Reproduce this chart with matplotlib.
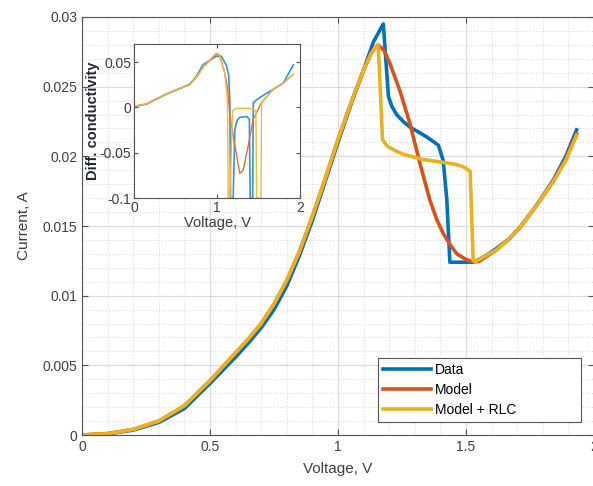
import numpy as np
import matplotlib.pyplot as plt
from matplotlib.ticker import MultipleLocator

plt.rcParams['font.family'] = ['Liberation Sans', 'DejaVu Sans']

# Main I-V curves (V, A)
v_data = [0, 0.1, 0.2, 0.3, 0.4, 0.5, 0.6, 0.65, 0.7, 0.75, 0.8, 0.85, 0.9,
          0.95, 1.0, 1.05, 1.1, 1.138, 1.177, 1.197, 1.21, 1.229, 1.255,
          1.281, 1.346, 1.392, 1.411, 1.425, 1.437, 1.53, 1.58, 1.62, 1.67,
          1.711, 1.776, 1.841, 1.89, 1.932]
i_data = [0, 0.00008, 0.00035, 0.0009, 0.0019, 0.0037, 0.0056, 0.0066,
          0.0077, 0.0090, 0.0107, 0.0129, 0.0154, 0.0182, 0.0210, 0.0237,
          0.0262, 0.0282, 0.0295, 0.0243, 0.0236, 0.0230, 0.0225, 0.0221,
          0.0214, 0.0208, 0.0197, 0.0169, 0.0124, 0.0124, 0.0129, 0.0134,
          0.0141, 0.0149, 0.0165, 0.0183, 0.0200, 0.0219]

v_model = [0, 0.1, 0.2, 0.3, 0.4, 0.5, 0.6, 0.65, 0.7, 0.75, 0.8, 0.85, 0.9,
           0.95, 1.0, 1.05, 1.1, 1.13, 1.145, 1.157, 1.18, 1.203, 1.242,
           1.281, 1.32, 1.359, 1.385, 1.411, 1.44, 1.464, 1.50, 1.528, 1.55,
           1.62, 1.67, 1.711, 1.776, 1.841, 1.89, 1.932]
i_model = [0, 0.0001, 0.0004, 0.001, 0.0021, 0.0039, 0.0059, 0.0069,
           0.0080, 0.0094, 0.0111, 0.0132, 0.0157, 0.0184, 0.0212, 0.0238,
           0.0262, 0.0274, 0.0278, 0.0280, 0.0276, 0.02665, 0.0247, 0.02235,
           0.0195, 0.01685, 0.0155, 0.01446, 0.0136, 0.0130, 0.0126,
           0.01243, 0.01245, 0.0133, 0.0141, 0.0149, 0.0165, 0.0182, 0.0198,
           0.0216]

v_rlc = [0, 0.1, 0.2, 0.3, 0.4, 0.5, 0.6, 0.65, 0.7, 0.75, 0.8, 0.85, 0.9,
         0.95, 1.0, 1.05, 1.1, 1.13, 1.145, 1.157, 1.174, 1.185, 1.197, 1.225,
         1.255, 1.333, 1.425, 1.465, 1.49, 1.516, 1.528, 1.535, 1.62, 1.67,
         1.711, 1.776, 1.841, 1.89, 1.932]
i_rlc = [0, 0.0001, 0.0004, 0.001, 0.0021, 0.0039, 0.0059, 0.0069, 0.0080,
         0.0094, 0.0111, 0.0132, 0.0157, 0.0184, 0.0212, 0.0238, 0.0262,
         0.0274, 0.0278, 0.0280, 0.0212, 0.0209, 0.02067, 0.0204, 0.02015,
         0.01977, 0.01953, 0.0194, 0.01924, 0.01895, 0.01255, 0.01243,
         0.0133, 0.0141, 0.0149, 0.0165, 0.0182, 0.0197, 0.0215]

# Inset: differential conductivity
dv_data = [0, 0.149, 0.39, 0.67, 0.75, 0.83, 0.99, 1.05, 1.11, 1.14, 1.155,
           1.163, 1.195, 1.215, 1.245, 1.275, 1.356, 1.39, 1.396, 1.40, 1.43,
           1.437, 1.517, 1.678, 1.80, 1.92]
dg_data = [0.001, 0.0036, 0.0146, 0.0255, 0.034, 0.047, 0.0566, 0.0566,
           0.047, 0.0365, 0.0055, -0.1, -0.1, -0.024, -0.014, -0.011,
           -0.010, -0.013, -0.071, -0.1, -0.1, 0.0055, 0.011, 0.020, 0.027,
           0.047]

dv_model = [0, 0.149, 0.39, 0.67, 0.75, 0.83, 0.99, 1.03, 1.094, 1.13, 1.155,
            1.215, 1.275, 1.316, 1.376, 1.437, 1.537, 1.678, 1.80, 1.92]
dg_model = [0.001, 0.004, 0.015, 0.025, 0.033, 0.044, 0.059, 0.058, 0.038,
            0.02, -0.009, -0.042, -0.073, -0.069, -0.042, -0.013, 0.0055,
            0.020, 0.027, 0.0365]

dv_rlc = [0, 0.149, 0.39, 0.67, 0.75, 0.83, 0.99, 1.03, 1.094, 1.127, 1.135,
          1.155, 1.187, 1.235, 1.396, 1.469, 1.477, 1.50, 1.53, 1.537, 1.678,
          1.80, 1.92]
dg_rlc = [0.001, 0.004, 0.015, 0.025, 0.033, 0.044, 0.060, 0.058, 0.038,
          0.0036, -0.1, -0.1, -0.0036, -0.001, -0.001, -0.0036, -0.1, -0.1,
          -0.1, 0.0055, 0.020, 0.027, 0.0365]

c_blue = '#0072BD'
c_red = '#D95319'
c_yel = '#EDB120'
txt = '#404040'
fmt = plt.FuncFormatter(lambda x, p: f'{x:g}')

fig = plt.figure(figsize=(5.93, 4.86), dpi=100)
ax = fig.add_axes([82/593, 51/486, 512/593, 418/486])

ax.plot(v_data, i_data, color=c_blue, lw=2.6, label='Data')
ax.plot(v_model, i_model, color=c_red, lw=2.6, label='Model')
ax.plot(v_rlc, i_rlc, color=c_yel, lw=2.6, label='Model + RLC')

ax.set_xlim(0, 2)
ax.set_ylim(0, 0.03)
ax.xaxis.set_major_locator(MultipleLocator(0.5))
ax.xaxis.set_minor_locator(MultipleLocator(0.1))
ax.yaxis.set_major_locator(MultipleLocator(0.005))
ax.yaxis.set_minor_locator(MultipleLocator(0.001))
ax.xaxis.set_major_formatter(fmt)
ax.yaxis.set_major_formatter(fmt)
ax.grid(which='major', color='#dcdcdc', lw=0.9)
ax.grid(which='minor', color='#dcdcdc', lw=0.8, ls=':')
ax.set_axisbelow(True)
ax.tick_params(which='major', direction='in', length=4, labelsize=10,
               colors='#555555', labelcolor=txt, top=True, right=True)
ax.tick_params(which='minor', length=0)
for s in ax.spines.values():
    s.set_color('#555555')
    s.set_linewidth(0.8)
ax.set_xlabel('Voltage, V', fontsize=11, color=txt, labelpad=6)
ax.set_ylabel('Current, A', fontsize=11, color=txt, labelpad=8)

leg = ax.legend(loc='lower left', bbox_to_anchor=(0.578, 0.031, 0.397, 0.156),
                mode='expand', fontsize=10, handlelength=3.5,
                handletextpad=0.25, labelspacing=0.45, borderpad=0.35,
                borderaxespad=0, fancybox=False, framealpha=1,
                edgecolor='#555555')
leg.get_frame().set_linewidth(0.8)
for h in leg.get_lines():
    h.set_linewidth(2.6)

# Inset
axi = fig.add_axes([134/593, 288/486, 166/593, 154/486])
axi.plot(dv_data, dg_data, color='#3a93d4', lw=1.2)
axi.plot(dv_model, dg_model, color='#e0703a', lw=1.0)
axi.plot(dv_rlc, dg_rlc, color='#f0bb40', lw=1.0)
axi.set_xlim(0, 2)
axi.set_ylim(-0.1, 0.07)
axi.set_xticks([0, 1, 2])
axi.set_yticks([-0.1, -0.05, 0, 0.05])
axi.xaxis.set_major_formatter(fmt)
axi.yaxis.set_major_formatter(fmt)
axi.tick_params(direction='in', length=3, labelsize=10, colors='#555555',
                labelcolor=txt, top=True, right=True, pad=2)
for s in axi.spines.values():
    s.set_color('#555555')
    s.set_linewidth(0.8)
axi.set_xlabel('Voltage, V', fontsize=10.5, color=txt, labelpad=1)
axi.set_ylabel('Diff. conductivity', fontsize=10.5, fontweight='bold',
               color='#1f2a3a', labelpad=0)

fig.savefig('out.png', dpi=100)
